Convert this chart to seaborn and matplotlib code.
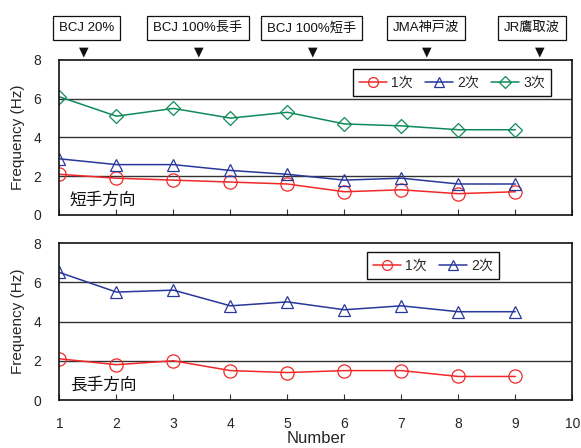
import matplotlib
matplotlib.use("Agg")
import matplotlib.pyplot as plt
import matplotlib.transforms as mtransforms
import seaborn as sns
import pandas as pd

sns.set_theme(style="white")
plt.rcParams["font.family"] = ["Liberation Sans", "Noto Sans CJK JP", "DejaVu Sans"]

numbers = [1, 2, 3, 4, 5, 6, 7, 8, 9]

# short-side direction (短手方向)
short_1st = [2.1, 1.9, 1.8, 1.7, 1.6, 1.2, 1.3, 1.1, 1.2]
short_2nd = [2.9, 2.6, 2.6, 2.3, 2.1, 1.8, 1.9, 1.6, 1.6]
short_3rd = [6.1, 5.1, 5.5, 5.0, 5.3, 4.7, 4.6, 4.4, 4.4]

# long-side direction (長手方向)
long_1st = [2.1, 1.8, 2.0, 1.5, 1.4, 1.5, 1.5, 1.2, 1.2]
long_2nd = [6.5, 5.5, 5.6, 4.8, 5.0, 4.6, 4.8, 4.5, 4.5]

mode_labels = ["1次", "2次", "3次"]
wave_labels = ["BCJ 20%", "BCJ 100%長手", "BCJ 100%短手", "JMA神戸波", "JR鷹取波"]
wave_positions = [1.43, 3.44, 5.44, 7.45, 9.43]
box_positions = [1.48, 3.43, 5.43, 7.43, 9.29]

colors = ["#f02828", "#28379a", "#0e8a5a"]
markers = ["o", "^", "D"]
msizes = [9.5, 9, 7.5]

fig = plt.figure(figsize=(5.81, 4.48), dpi=100)
ax_top = fig.add_axes([0.1024, 0.5201, 0.8826, 0.3460])
ax_bot = fig.add_axes([0.1024, 0.1071, 0.8826, 0.3504])


def draw_panel(ax, series, title, legend_anchor):
    for i, vals in enumerate(series):
        df = pd.DataFrame({"Number": numbers, "Frequency": vals})
        sns.lineplot(data=df, x="Number", y="Frequency", ax=ax,
                     color=colors[i], marker=markers[i], markersize=msizes[i],
                     markerfacecolor="none", markeredgecolor=colors[i],
                     markeredgewidth=0.9, linewidth=1.1, label=mode_labels[i])
    ax.set_xlim(1, 10)
    ax.set_ylim(0, 8)
    ax.set_xticks(range(1, 11))
    ax.set_yticks([0, 2, 4, 6, 8])
    for yv in [2, 4, 6]:
        ax.axhline(yv, color="#333333", linewidth=1.0, zorder=0)
    for sp in ax.spines.values():
        sp.set_color("#111111")
        sp.set_linewidth(1.2)
    ax.tick_params(axis="x", direction="in", length=4, width=0.8,
                   color="#333333", labelsize=10, pad=12, bottom=True)
    ax.tick_params(axis="y", length=0, labelsize=10, pad=13)
    ax.set_ylabel("Frequency (Hz)", fontsize=11, labelpad=6)
    ax.set_xlabel("")
    ax.text(0.02, 0.10, title, transform=ax.transAxes, fontsize=12,
            ha="left", va="center", color="#111111")
    leg = ax.legend(loc="upper right", bbox_to_anchor=legend_anchor, ncol=len(series),
                    fontsize=10, frameon=True, fancybox=False, framealpha=1,
                    edgecolor="#111111", handlelength=2.0, handletextpad=0.3,
                    columnspacing=0.9, borderpad=0.45, markerscale=0.75)
    leg.get_frame().set_linewidth(1.0)


draw_panel(ax_top, [short_1st, short_2nd, short_3rd], "短手方向", (0.972, 0.985))
draw_panel(ax_bot, [long_1st, long_2nd], "長手方向", (0.871, 0.985))

ax_top.set_xticklabels([])
ax_bot.set_xlabel("Number", fontsize=12, labelpad=0)

# excitation labels above the upper panel
trans = mtransforms.blended_transform_factory(ax_top.transData, fig.transFigure)
for label, bx, tx in zip(wave_labels, box_positions, wave_positions):
    fig.text(bx, 1 - 28 / 448, label, transform=trans, fontsize=9.5,
             ha="center", va="center", color="#111111",
             bbox=dict(boxstyle="square,pad=0.45", facecolor="white",
                       edgecolor="#111111", linewidth=0.9))
    fig.text(tx, 1 - 52 / 448, "▼", transform=trans, fontsize=9,
             ha="center", va="center", color="#111111",
             family=["DejaVu Sans"])

fig.savefig("out.png", dpi=100)
